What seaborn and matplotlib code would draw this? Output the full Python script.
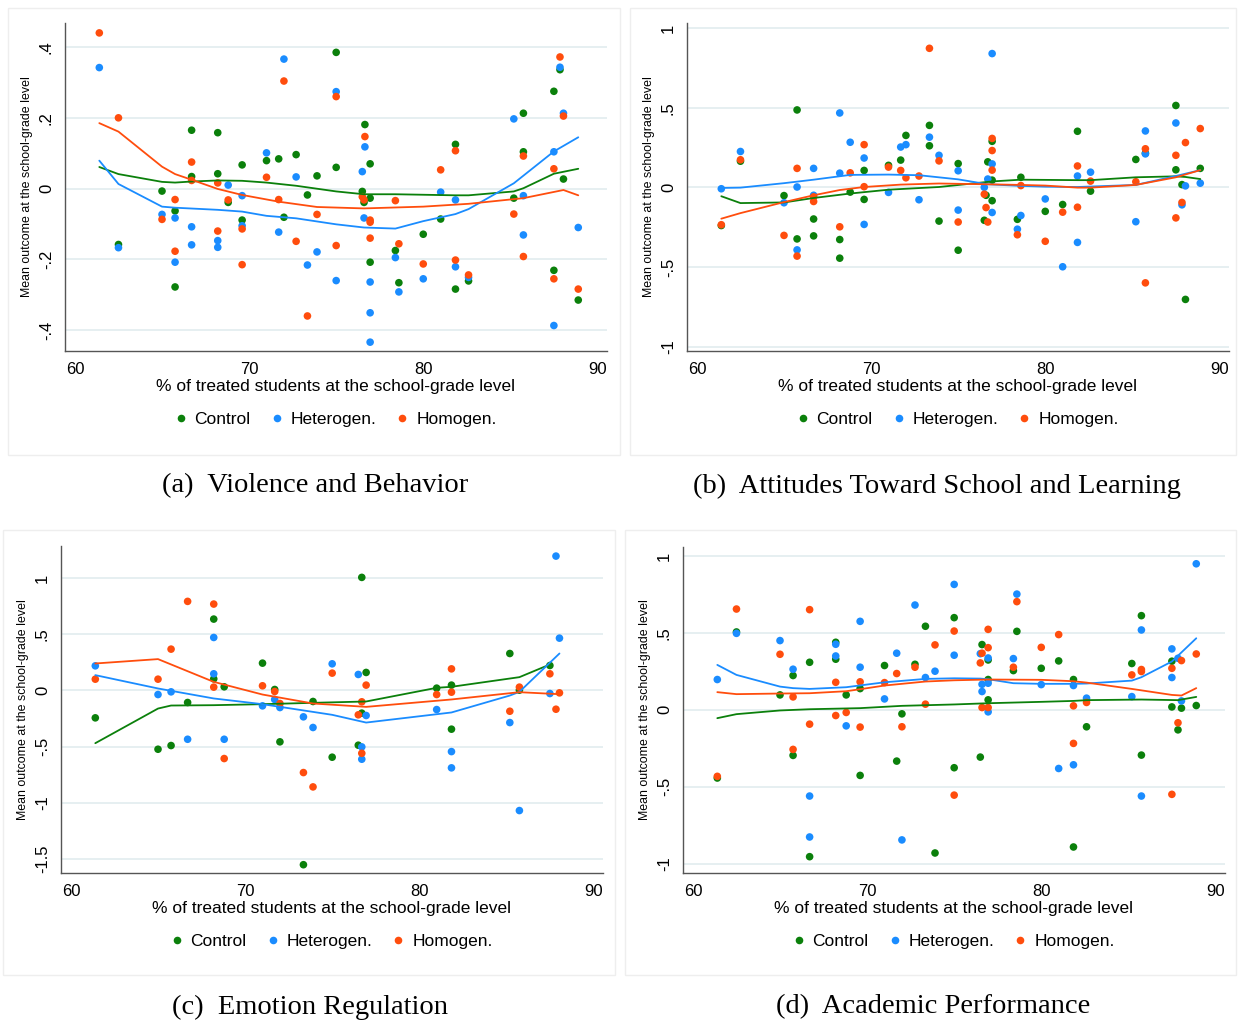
import pandas as pd
import seaborn as sns
import matplotlib.pyplot as plt
from matplotlib.patches import Rectangle

# ============================================
# DATA
# ============================================

groups = ["Control", "Heterogen.", "Homogen."]
colors = ["#0b800b", "#1a8cff", "#ff4d0d"]

captions = ["(a)  Violence and Behavior",
            "(b)  Attitudes Toward School and Learning",
            "(c)  Emotion Regulation",
            "(d)  Academic Performance"]

xticks = [60, 70, 80, 90]

a_yticks = [-0.4, -0.2, 0, 0.2, 0.4]
a_ylabels = ["-.4", "-.2", "0", ".2", ".4"]
b_yticks = [-1, -0.5, 0, 0.5, 1]
b_ylabels = ["-1", "-.5", "0", ".5", "1"]
c_yticks = [-1.5, -1, -0.5, 0, 0.5, 1]
c_ylabels = ["-1.5", "-1", "-.5", "0", ".5", "1"]
d_yticks = [-1, -0.5, 0, 0.5, 1]
d_ylabels = ["-1", "-.5", "0", ".5", "1"]

# --- panel (a) ---
a_ctrl = [(62.5, -0.158), (65.0, -0.007), (65.75, -0.063), (65.75, -0.278), (66.7, 0.165), (66.7, 0.034),
          (68.2, 0.158), (68.2, 0.042), (68.8, -0.039), (69.6, 0.067), (69.6, -0.089), (71.0, 0.079),
          (71.7, 0.084), (72.0, -0.081), (72.7, 0.096), (73.35, -0.018), (73.9, 0.036), (75.0, 0.385),
          (75.0, 0.060), (76.5, -0.008), (76.6, -0.039), (76.65, 0.181), (76.95, 0.070), (76.95, -0.027),
          (76.95, -0.208), (78.4, -0.175), (78.6, -0.266), (80.0, -0.129), (81.0, -0.086), (81.85, 0.125),
          (81.85, -0.284), (82.6, -0.261), (85.2, -0.027), (85.75, 0.213), (85.75, 0.104), (87.5, 0.275),
          (87.5, -0.231), (87.85, 0.336), (88.05, 0.027), (88.9, -0.315)]
a_het = [(61.4, 0.342), (62.5, -0.167), (65.0, -0.073), (65.75, -0.083), (65.75, -0.208), (66.7, -0.108),
         (66.7, -0.159), (68.2, -0.147), (68.2, -0.166), (68.8, 0.010), (69.6, -0.020), (69.6, -0.105),
         (71.0, 0.101), (71.7, -0.123), (72.0, 0.366), (72.7, 0.033), (73.35, -0.216), (73.9, -0.179),
         (75.0, 0.274), (75.0, -0.26), (76.5, 0.048), (76.6, -0.083), (76.65, 0.118), (76.95, -0.264),
         (76.95, -0.351), (76.95, -0.434), (78.4, -0.195), (78.6, -0.292), (80.0, -0.255), (81.0, -0.010),
         (81.85, -0.032), (81.85, -0.221), (82.6, -0.251), (85.2, 0.197), (85.75, -0.020), (85.75, -0.131),
         (87.5, 0.104), (87.5, -0.387), (87.85, 0.343), (88.05, 0.213), (88.9, -0.110)]
a_hom = [(61.4, 0.44), (62.5, 0.20), (65.0, -0.087), (65.75, -0.031), (65.75, -0.177), (66.7, 0.075),
         (66.7, 0.023), (68.2, 0.016), (68.2, -0.12), (68.8, -0.032), (69.6, -0.114), (69.6, -0.215),
         (71.0, 0.032), (71.7, -0.031), (72.0, 0.304), (72.7, -0.149), (73.35, -0.36), (73.9, -0.073),
         (75.0, 0.26), (75.0, -0.161), (76.5, -0.023), (76.6, -0.032), (76.65, 0.147), (76.95, -0.089),
         (76.95, -0.095), (76.95, -0.14), (78.4, -0.034), (78.6, -0.156), (80.0, -0.213), (81.0, 0.053),
         (81.85, 0.107), (81.85, -0.202), (82.6, -0.244), (85.2, -0.072), (85.75, 0.092), (85.75, -0.192),
         (87.5, 0.056), (87.5, -0.255), (87.85, 0.372), (88.05, 0.205), (88.9, -0.284)]
a_ctrl_fit = [(61.4, 0.061), (62.5, 0.041), (65.0, 0.019), (65.75, 0.017), (66.7, 0.020), (68.2, 0.023),
              (69.6, 0.022), (71.0, 0.017), (72.7, 0.008), (75.0, -0.008), (76.6, -0.016), (78.4, -0.016),
              (81.85, -0.019), (82.6, -0.019), (85.2, -0.008), (85.75, 0.001), (87.5, 0.042), (88.9, 0.056)]
a_het_fit = [(61.4, 0.079), (62.5, 0.013), (65.0, -0.051), (65.75, -0.054), (68.2, -0.060), (69.6, -0.065),
             (71.0, -0.077), (72.7, -0.084), (75.0, -0.101), (76.6, -0.110), (78.4, -0.113), (80.0, -0.092),
             (81.85, -0.072), (82.6, -0.058), (85.2, 0.015), (87.5, 0.105), (88.9, 0.145)]
a_hom_fit = [(61.4, 0.185), (62.5, 0.161), (65.0, 0.062), (65.75, 0.041), (66.7, 0.025), (68.2, -0.001),
             (69.6, -0.018), (71.7, -0.037), (73.9, -0.052), (76.6, -0.056), (80.0, -0.051), (82.6, -0.043),
             (85.75, -0.027), (88.05, -0.004), (88.9, -0.019)]

# --- panel (b) ---
b_ctrl = [(61.4, -0.240), (62.5, 0.164), (65.0, -0.052), (65.75, 0.486), (65.75, -0.324), (66.7, -0.199),
          (66.7, -0.305), (68.2, -0.328), (68.2, -0.445), (68.8, -0.030), (69.6, 0.106), (69.6, -0.076),
          (71.0, 0.138), (71.7, 0.171), (72.0, 0.326), (73.35, 0.389), (73.35, 0.261), (73.9, -0.212),
          (75.0, 0.149), (75.0, -0.395), (76.5, -0.207), (76.6, -0.050), (76.7, 0.160), (76.95, 0.289),
          (76.95, 0.045), (76.95, -0.084), (78.4, -0.201), (78.6, 0.063), (80.0, -0.151), (81.0, -0.108),
          (81.85, 0.352), (82.6, -0.024), (85.2, 0.175), (85.75, 0.214), (87.5, 0.514), (87.5, 0.110),
          (87.85, 0.017), (88.05, -0.704), (88.9, 0.119)]
b_het = [(61.4, -0.009), (62.5, 0.225), (65.0, -0.097), (65.75, 0.002), (65.75, -0.393), (66.7, 0.119),
         (66.7, -0.050), (68.2, 0.467), (68.2, 0.089), (68.8, 0.283), (69.6, 0.184), (69.6, -0.233),
         (71.0, -0.032), (71.7, 0.253), (72.0, 0.268), (72.75, -0.078), (73.35, 0.315), (73.9, 0.201),
         (75.0, 0.104), (75.0, -0.143), (76.5, 0.0), (76.7, 0.052), (76.95, 0.840), (76.95, 0.147),
         (76.95, -0.158), (78.4, -0.263), (78.6, -0.177), (80.0, -0.073), (81.0, -0.499), (81.85, 0.071),
         (81.85, -0.346), (82.6, 0.095), (85.2, -0.216), (85.75, 0.354), (85.75, 0.210), (87.5, 0.404),
         (87.85, -0.110), (88.05, 0.009), (88.9, 0.026)]
b_hom = [(61.4, -0.235), (62.5, 0.173), (65.0, -0.302), (65.75, 0.119), (65.75, -0.432), (66.7, -0.089),
         (66.7, -0.060), (68.2, -0.248), (68.8, 0.091), (69.6, 0.268), (69.6, 0.004), (71.0, 0.127),
         (71.7, 0.106), (72.0, 0.060), (72.75, 0.071), (73.35, 0.873), (73.9, 0.166), (75.0, -0.218),
         (76.5, -0.043), (76.6, -0.127), (76.7, -0.218), (76.95, 0.307), (76.95, 0.231), (76.95, 0.108),
         (78.4, -0.298), (78.6, 0.011), (80.0, -0.339), (81.0, -0.156), (81.85, 0.134), (81.85, -0.125),
         (82.6, 0.039), (85.2, 0.035), (85.75, 0.242), (85.75, -0.600), (87.5, 0.201), (87.5, -0.192),
         (87.85, -0.095), (88.05, 0.281), (88.9, 0.369)]
b_ctrl_fit = [(61.4, -0.056), (62.5, -0.099), (65.0, -0.095), (66.7, -0.067), (68.8, -0.039), (71.0, -0.015),
              (73.9, 0.002), (76.95, 0.037), (78.6, 0.048), (81.85, 0.045), (82.6, 0.045), (85.2, 0.063),
              (87.5, 0.069), (88.05, 0.065), (88.9, 0.052)]
b_het_fit = [(61.4, -0.004), (62.5, -0.002), (65.0, 0.026), (66.7, 0.048), (68.8, 0.078), (71.0, 0.080),
             (72.75, 0.076), (75.0, 0.050), (76.7, 0.019), (78.6, 0.009), (80.0, 0.004), (81.85, 0.002),
             (85.2, 0.015), (87.5, 0.071), (88.9, 0.108)]
b_hom_fit = [(61.4, -0.197), (62.5, -0.162), (65.0, -0.093), (66.7, -0.050), (68.2, -0.017), (69.6, 0.002),
             (71.7, 0.017), (73.9, 0.024), (76.7, 0.019), (78.6, 0.015), (80.0, 0.011), (81.85, -0.002),
             (82.6, -0.002), (85.2, 0.015), (87.5, 0.063), (88.9, 0.108)]

# --- panel (c) ---
c_ctrl = [(61.4, -0.244), (65.0, -0.524), (65.75, -0.491), (66.7, -0.107), (68.2, 0.637), (68.2, 0.104),
          (68.8, 0.033), (71.0, 0.244), (71.7, 0.009), (72.0, -0.458), (73.35, -1.554), (73.9, -0.098),
          (75.0, -0.595), (76.5, -0.488), (76.7, 1.009), (76.7, -0.202), (76.95, 0.161), (81.0, 0.021),
          (81.85, 0.048), (81.85, -0.345), (85.2, 0.330), (85.75, 0.003), (87.5, 0.223)]
c_het = [(61.4, 0.220), (65.0, -0.036), (65.75, -0.012), (66.7, -0.435), (68.2, 0.473), (68.2, 0.149),
         (68.8, -0.435), (71.0, -0.137), (71.7, -0.080), (72.0, -0.152), (73.35, -0.235), (73.9, -0.330),
         (75.0, 0.238), (76.5, 0.143), (76.7, -0.503), (76.7, -0.613), (76.95, -0.223), (81.0, -0.170),
         (81.85, -0.545), (81.85, -0.690), (85.2, -0.286), (85.75, -1.071), (87.5, -0.027), (87.85, 1.199),
         (88.05, 0.467)]
c_hom = [(61.4, 0.101), (65.0, 0.101), (65.75, 0.369), (66.7, 0.795), (68.2, 0.771), (68.2, 0.030),
         (68.8, -0.607), (71.0, 0.042), (71.7, -0.009), (72.0, -0.116), (73.35, -0.732), (73.9, -0.860),
         (75.0, 0.155), (76.5, -0.217), (76.7, -0.101), (76.7, -0.560), (76.95, 0.048), (81.0, -0.036),
         (81.85, 0.193), (81.85, -0.015), (85.2, -0.185), (85.75, 0.030), (87.5, 0.149), (87.85, -0.167),
         (88.05, -0.021)]
c_ctrl_fit = [(61.4, -0.470), (65.0, -0.161), (65.75, -0.134), (68.2, -0.131), (71.0, -0.122), (73.9, -0.110),
              (76.95, -0.098), (81.0, 0.024), (81.85, 0.033), (85.75, 0.119), (87.5, 0.232)]
c_het_fit = [(61.4, 0.137), (65.0, 0.018), (68.2, -0.071), (71.0, -0.122), (75.0, -0.217), (76.95, -0.286),
             (81.85, -0.196), (85.2, -0.045), (85.75, -0.012), (88.05, 0.330)]
c_hom_fit = [(61.4, 0.241), (65.0, 0.280), (68.2, 0.077), (71.0, -0.036), (73.9, -0.116), (76.95, -0.146),
             (81.85, -0.080), (85.75, -0.015), (88.05, -0.033)]

# --- panel (d) ---
d_ctrl = [(61.4, -0.443), (62.5, 0.506), (65.0, 0.097), (65.75, 0.223), (65.75, -0.296), (66.7, 0.309),
          (66.7, -0.954), (68.2, 0.439), (68.2, 0.329), (68.8, 0.097), (69.6, 0.138), (69.6, -0.426),
          (71.0, 0.288), (71.7, -0.333), (72.0, -0.026), (72.75, 0.296), (73.35, 0.543), (73.9, -0.930),
          (75.0, 0.599), (75.0, -0.376), (76.5, -0.307), (76.6, 0.424), (76.95, 0.324), (76.95, 0.197),
          (76.95, 0.065), (78.4, 0.255), (78.6, 0.510), (80.0, 0.270), (81.0, 0.318), (81.85, 0.197),
          (81.85, -0.891), (82.6, -0.110), (85.2, 0.301), (85.75, 0.612), (85.75, -0.294), (87.5, 0.316),
          (87.5, 0.019), (87.85, -0.130), (88.05, 0.011), (88.9, 0.028)]
d_het = [(61.4, 0.197), (62.5, 0.497), (65.0, 0.450), (65.75, 0.264), (66.7, -0.560), (66.7, -0.826),
         (68.2, 0.426), (68.2, 0.350), (68.8, -0.104), (69.6, 0.575), (69.6, 0.277), (71.0, 0.071),
         (71.7, 0.368), (72.0, -0.845), (72.75, 0.681), (73.35, 0.210), (73.9, 0.251), (75.0, 0.815),
         (75.0, 0.355), (76.5, 0.365), (76.6, 0.119), (76.6, 0.166), (76.95, 0.337), (76.95, 0.173),
         (76.95, -0.013), (78.4, 0.333), (78.6, 0.752), (80.0, 0.164), (81.0, -0.381), (81.85, 0.158),
         (81.85, -0.357), (82.6, 0.076), (85.2, 0.086), (85.75, 0.519), (85.75, -0.560), (87.5, 0.396),
         (87.5, 0.210), (87.85, 0.335), (88.05, 0.058), (88.9, 0.949)]
d_hom = [(61.4, -0.432), (62.5, 0.655), (65.0, 0.361), (65.75, 0.084), (65.75, -0.257), (66.7, 0.651),
         (66.7, -0.093), (68.2, 0.179), (68.2, -0.037), (68.8, -0.017), (69.6, 0.182), (69.6, -0.112),
         (71.0, 0.177), (71.7, 0.236), (72.0, -0.110), (72.75, 0.277), (73.35, 0.037), (73.9, 0.422),
         (75.0, 0.512), (75.0, -0.554), (76.5, 0.305), (76.6, 0.368), (76.6, 0.015), (76.95, 0.523),
         (76.95, 0.404), (76.95, 0.015), (78.4, 0.277), (78.6, 0.703), (80.0, 0.406), (81.0, 0.489),
         (81.85, 0.026), (81.85, -0.218), (82.6, 0.048), (85.2, 0.227), (85.75, 0.262), (85.75, 0.249),
         (87.5, 0.270), (87.5, -0.549), (87.85, -0.084), (88.05, 0.320), (88.9, 0.363)]
d_ctrl_fit = [(61.4, -0.054), (62.5, -0.028), (65.0, -0.004), (66.7, 0.004), (69.6, 0.011), (72.0, 0.026),
              (75.0, 0.035), (76.95, 0.043), (80.0, 0.052), (81.85, 0.058), (82.6, 0.063), (85.75, 0.067),
              (87.85, 0.063), (88.9, 0.084)]
d_het_fit = [(61.4, 0.292), (62.5, 0.227), (65.0, 0.151), (65.75, 0.141), (66.7, 0.136), (68.8, 0.147),
             (71.0, 0.179), (73.35, 0.201), (75.0, 0.205), (76.5, 0.203), (76.95, 0.199), (78.4, 0.173),
             (80.0, 0.169), (81.85, 0.169), (82.6, 0.171), (85.2, 0.190), (85.75, 0.212), (87.5, 0.314),
             (88.9, 0.465)]
d_hom_fit = [(61.4, 0.115), (62.5, 0.102), (65.0, 0.106), (66.7, 0.108), (68.8, 0.121), (69.6, 0.134),
             (71.0, 0.158), (73.35, 0.184), (75.0, 0.192), (76.95, 0.197), (80.0, 0.195), (81.85, 0.186),
             (82.6, 0.177), (85.2, 0.136), (87.5, 0.097), (88.05, 0.093), (88.9, 0.141)]


def to_frame(ctrl, het, hom):
    rows = []
    for name, pts in zip(groups, [ctrl, het, hom]):
        for x, y in pts:
            rows.append({"x": x, "y": y, "group": name})
    return pd.DataFrame(rows)


panels = [
    (to_frame(a_ctrl, a_het, a_hom), to_frame(a_ctrl_fit, a_het_fit, a_hom_fit),
     a_yticks, a_ylabels, (-0.459, 0.468)),
    (to_frame(b_ctrl, b_het, b_hom), to_frame(b_ctrl_fit, b_het_fit, b_hom_fit),
     b_yticks, b_ylabels, (-1.028, 1.032)),
    (to_frame(c_ctrl, c_het, c_hom), to_frame(c_ctrl_fit, c_het_fit, c_hom_fit),
     c_yticks, c_ylabels, (-1.628, 1.289)),
    (to_frame(d_ctrl, d_het, d_hom), to_frame(d_ctrl_fit, d_het_fit, d_hom_fit),
     d_yticks, d_ylabels, (-1.06, 1.058)),
]

# ============================================
# PLOT
# ============================================

sns.set_style("white")
plt.rcParams["font.family"] = ["Liberation Sans", "DejaVu Sans"]
plt.rcParams["text.color"] = "black"
plt.rcParams["axes.labelcolor"] = "black"
plt.rcParams["xtick.labelcolor"] = "black"
plt.rcParams["ytick.labelcolor"] = "black"

W, H = 1239, 1026
fig = plt.figure(figsize=(W / 100, H / 100), dpi=100)

# axes boxes in pixels: left, top, right, bottom
boxes = [(65, 23, 607, 351), (687, 23, 1229, 351),
         (61, 546, 603, 873), (683, 547, 1225, 873)]
regions = [(8, 8, 620, 455), (630, 8, 1236, 455),
           (3, 530, 615, 975), (625, 530, 1236, 975)]
caption_pos = [(315, 486), (937, 486), (310, 1007), (933, 1007)]

palette = dict(zip(groups, colors))

for i, (pts, fit, yt, ylab, ylim) in enumerate(panels):
    rx0, ry0, rx1, ry1 = regions[i]
    fig.patches.append(Rectangle((rx0 / W, 1 - ry1 / H), (rx1 - rx0) / W, (ry1 - ry0) / H,
                                 transform=fig.transFigure, fill=False,
                                 edgecolor="#eeeeee", lw=1))

    l, t, r, b = boxes[i]
    ax = fig.add_axes([l / W, 1 - b / H, (r - l) / W, (b - t) / H])

    sns.scatterplot(data=pts, x="x", y="y", hue="group", hue_order=groups,
                    palette=palette, s=30, linewidth=0, ax=ax, zorder=3)
    sns.lineplot(data=fit, x="x", y="y", hue="group", hue_order=groups,
                 palette=palette, estimator=None, lw=1.3, legend=False,
                 ax=ax, zorder=4)

    ax.set_xlim(59.43, 90.55)
    ax.set_ylim(*ylim)
    ax.set_xticks(xticks)
    ax.set_yticks(yt)
    ax.set_yticklabels(ylab, rotation=90, va="center")
    ax.grid(axis="y", color="#e6eff1", lw=1.4, zorder=0)
    ax.grid(axis="x", visible=False)

    for side in ["top", "right"]:
        ax.spines[side].set_visible(False)
    for side in ["left", "bottom"]:
        ax.spines[side].set_color("#555555")
        ax.spines[side].set_linewidth(1.0)
    ax.tick_params(axis="both", direction="out", length=5, width=1,
                   color="#555555", labelsize=12, pad=3)

    ax.set_xlabel("% of treated students at the school-grade level",
                  fontsize=12.5, labelpad=1)
    ax.set_ylabel("Mean outcome at the school-grade level",
                  fontsize=8.9, labelpad=4)

    sns.move_legend(ax, "center", bbox_to_anchor=(0.5, -0.21), ncol=3,
                    frameon=False, title=None, fontsize=12.5,
                    handlelength=0.6, handletextpad=0.5, columnspacing=1.2,
                    markerscale=1.0)

    cx, cy = caption_pos[i]
    fig.text(cx / W, 1 - cy / H, captions[i], ha="center", va="center",
             fontsize=20.5, family=["Liberation Serif", "DejaVu Serif"])

plt.savefig("out.png", dpi=100)
